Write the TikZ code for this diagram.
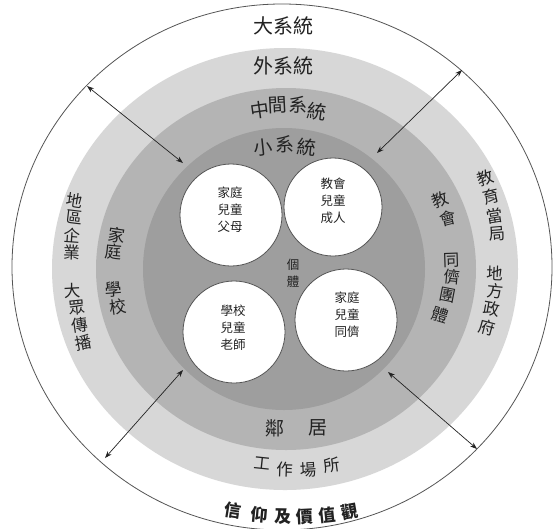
\documentclass[tikz,border=0pt]{standalone}
\usepackage{fontspec}
\setmainfont{Noto Sans CJK TC}
\usetikzlibrary{arrows.meta}
\definecolor{ringA}{HTML}{D7D7D7}
\definecolor{ringB}{HTML}{B4B4B4}
\definecolor{ringC}{HTML}{9E9E9E}
\definecolor{edgegrey}{HTML}{555555}
\definecolor{inkgrey}{HTML}{222222}
\tikzset{
  chbig/.style={inner sep=-1.5pt, text=inkgrey, font=\fontsize{19}{19}\selectfont},
  chside/.style={inner sep=-1.5pt, text=inkgrey, font=\fontsize{17}{17}\selectfont},
  chmid/.style={inner sep=-1.5pt, text=inkgrey, font=\fontsize{16.5}{16.5}\selectfont},
  chbold/.style={inner sep=-1.5pt, text=inkgrey, font=\fontsize{17}{17}\selectfont\bfseries},
  chsmall/.style={inner sep=0pt, text=inkgrey, font=\fontsize{12.5}{17}\selectfont, align=center},
  wcirc/.style={circle, draw=edgegrey, line width=0.8pt, fill=white, inner sep=0pt},
  dblarrow/.style={draw=inkgrey, line width=0.7pt, {Stealth[length=7pt,width=5pt]}-{Stealth[length=7pt,width=5pt]}}
}
\begin{document}
\begin{tikzpicture}[x=1pt,y=-1pt]
\useasboundingbox (0,0) rectangle (553,528);
\clip (0,0) rectangle (553,528);
\fill[white] (0,0) rectangle (553,528);
% rings
\draw[edgegrey, line width=0.8pt, fill=white] (282,267) ellipse [x radius=270pt, y radius=263pt];
\fill[ringA] (285,269) ellipse [x radius=233pt, y radius=221pt];
\fill[ringB] (286,269) ellipse [x radius=190pt, y radius=181pt];
\fill[ringC] (284,269) circle [radius=141pt];
% white circles
\node[wcirc, minimum size=102pt] (c1) at (231,215) {};
\node[wcirc, minimum size=98pt]  (c2) at (333,207) {};
\node[wcirc, minimum size=102pt] (c3) at (234,332) {};
\node[wcirc, minimum size=102pt] (c4) at (346,320) {};
\node[chsmall] (t1) at (230,210) {家庭\\兒童\\父母};
\node[chsmall] (t2) at (333,201) {教會\\兒童\\成人};
\node[chsmall] (t3) at (233,328) {學校\\兒童\\老師};
\node[chsmall] (t4) at (347,315) {家庭\\兒童\\同儕};
\node[chsmall] (g1) at (293,265) {個};
\node[chsmall] (g2) at (293,282) {體};
% top labels
\node[font=\fontsize{20}{20}\selectfont, inner sep=0pt, text=inkgrey] (macro) at (283,26) {大系統};
\node[font=\fontsize{20}{20}\selectfont, inner sep=0pt, text=inkgrey] (exo) at (283,66) {外系統};
\foreach \ch/\x/\y/\r [count=\i] in {中/260/110/8, 間/278/105/3, 系/298/105/-3, 統/317/112/-8}
  \node[chbig, rotate=\r] (meso\i) at (\x,\y) {\ch};
\foreach \ch/\x/\y/\r [count=\i] in {小/263/147/6, 系/285/144/0, 統/307/147/-6}
  \node[chbig, rotate=\r] (micro\i) at (\x,\y) {\ch};
% left labels
\foreach \ch/\x/\y/\r [count=\i] in {地/75/200/-9, 區/74/217/-7, 企/72/235/-4, 業/72/253/-2, 大/72/291/3, 眾/77/308/6, 傳/80/325/8, 播/83/343/11}
  \node[chmid, rotate=\r] (lo\i) at (\x,\y) {\ch};
\foreach \ch/\x/\y/\r [count=\i] in {家/117/235/-8, 庭/114/252/-5, 學/114/290/4, 校/118/307/8}
  \node[chside, rotate=\r] (li\i) at (\x,\y) {\ch};
% right labels
\foreach \ch/\x/\y/\r [count=\i] in {教/485/178/18, 育/491/196/13, 當/495/216/9, 局/497/234/5, 地/495/273/-2, 方/495/291/-6, 政/492/309/-10, 府/487/328/-15}
  \node[chmid, rotate=\r] (ro\i) at (\x,\y) {\ch};
\foreach \ch/\x/\y/\r [count=\i] in {教/440/200/20, 會/448/218/14, 同/452/260/2, 儕/452/277/-5, 團/448/295/-11, 體/440/315/-17}
  \node[chmid, rotate=\r] (ri\i) at (\x,\y) {\ch};
% bottom labels
\node[chbig] (nb1) at (275,428) {鄰};
\node[chbig] (nb2) at (318,428) {居};
\foreach \ch/\x/\y/\r [count=\i] in {工/262/463/-6, 作/285/470/-2, 場/308/470/3, 所/332/465/8}
  \node[chmid, rotate=\r] (wk\i) at (\x,\y) {\ch};
\foreach \ch/\x/\y/\r [count=\i] in {信/233/510/-9, 仰/260/515/-5, 及/283/517/-1, 價/305/517/3, 值/327/515/6, 觀/350/512/10}
  \node[chbold, rotate=\r] (bv\i) at (\x,\y) {\ch};
% arrow end points
\coordinate (tlo) at (87,86);   \coordinate (tli) at (183,163);
\coordinate (tro) at (462,70);  \coordinate (tri) at (377,153);
\coordinate (blo) at (105,458); \coordinate (bli) at (183,370);
\coordinate (bro) at (477,449); \coordinate (bri) at (388,372);
\draw[dblarrow] (tlo) -- (tli);
\draw[dblarrow] (tro) -- (tri);
\draw[dblarrow] (blo) -- (bli);
\draw[dblarrow] (bro) -- (bri);
\end{tikzpicture}
\end{document}
